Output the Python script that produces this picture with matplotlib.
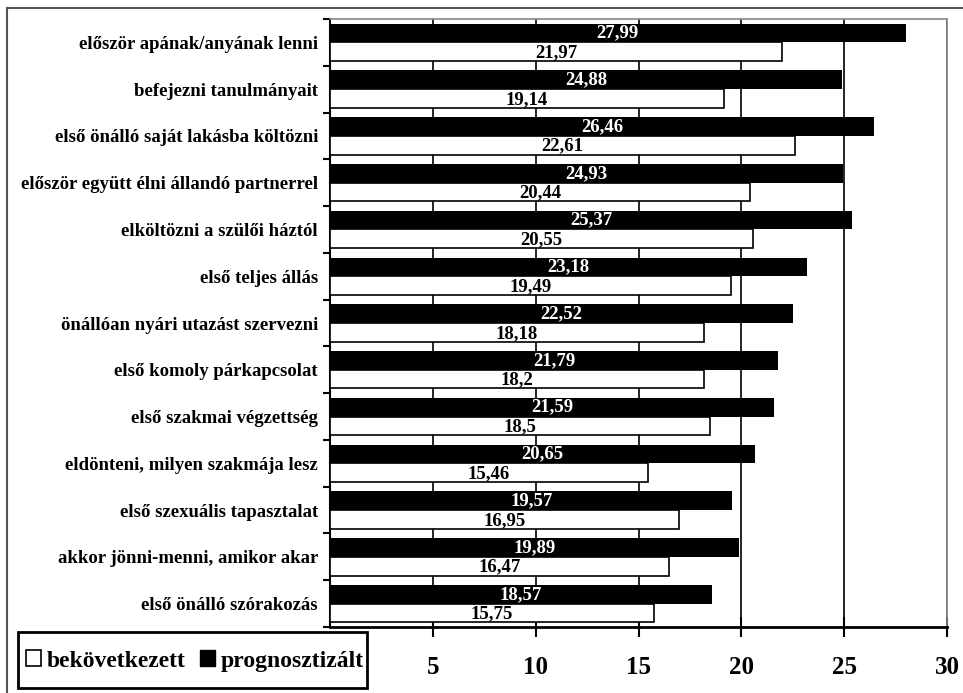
import matplotlib
matplotlib.use("Agg")
import matplotlib.pyplot as plt
import numpy as np
from matplotlib.patches import Patch, Rectangle
from matplotlib.lines import Line2D

plt.rcParams['font.family'] = ['Liberation Serif', 'DejaVu Serif']
plt.rcParams['font.weight'] = 'bold'

categories = [
    "először apának/anyának lenni",
    "befejezni tanulmányait",
    "első önálló saját lakásba költözni",
    "először együtt élni állandó partnerrel",
    "elköltözni a szülői háztól",
    "első teljes állás",
    "önállóan nyári utazást szervezni",
    "első komoly párkapcsolat",
    "első szakmai végzettség",
    "eldönteni, milyen szakmája lesz",
    "első szexuális tapasztalat",
    "akkor jönni-menni, amikor akar",
    "első önálló szórakozás",
]
prognosztizalt = [27.99, 24.88, 26.46, 24.93, 25.37, 23.18, 22.52, 21.79, 21.59, 20.65, 19.57, 19.89, 18.57]
bekovetkezett = [21.97, 19.14, 22.61, 20.44, 20.55, 19.49, 18.18, 18.2, 18.5, 15.46, 16.95, 16.47, 15.75]
x_ticks = [5, 10, 15, 20, 25, 30]

W, H = 963, 693
fig = plt.figure(figsize=(W / 100, H / 100), dpi=100)
ax = fig.add_axes([330 / W, 1 - 627 / H, (947 - 330) / W, (627 - 19) / H])

n = len(categories)
pos = np.arange(n)
bh = 0.4

def fmt(v):
    return f"{v:g}".replace('.', ',')

ax.barh(pos - bh / 2, prognosztizalt, height=bh, color='black', zorder=3)
ax.barh(pos + bh / 2, bekovetkezett, height=bh, color='white',
        edgecolor='black', linewidth=1.2, zorder=3)

for i, v in enumerate(prognosztizalt):
    ax.text(v / 2, pos[i] - bh / 2, fmt(v), ha='center', va='center',
            color='white', fontsize=13.5, fontweight='bold', zorder=4)
for i, v in enumerate(bekovetkezett):
    ax.text(v / 2, pos[i] + bh / 2 + 0.02, fmt(v), ha='center', va='center',
            color='black', fontsize=13.5, fontweight='bold', zorder=4)

ax.set_xlim(0, 30)
ax.set_ylim(n - 0.5, -0.5)

ax.set_xticks(x_ticks)
ax.set_xticklabels([str(t) for t in x_ticks], fontsize=18, fontweight='bold')
ax.tick_params(axis='x', direction='inout', length=14, width=1.5, pad=14)

ax.set_yticks(pos)
ax.set_yticklabels(categories, fontsize=13.5, fontweight='bold')
ax.tick_params(axis='y', which='major', length=0, pad=8.6)
ax.set_yticks(np.arange(n + 1) - 0.5, minor=True)
ax.tick_params(axis='y', which='minor', length=5, width=1.5, direction='out')

ax.grid(axis='x', color='black', linewidth=1.2, zorder=1)
ax.set_axisbelow(True)

ax.spines['left'].set_linewidth(1.5)
ax.spines['bottom'].set_linewidth(2)
ax.spines['top'].set_color('#888888')
ax.spines['right'].set_color('#888888')
ax.spines['top'].set_linewidth(1.2)
ax.spines['right'].set_linewidth(1.2)

# legend box
box = Rectangle((18 / W, 1 - 688 / H), (367 - 18) / W, (688 - 632) / H,
                transform=fig.transFigure, facecolor='white', edgecolor='black',
                linewidth=2, zorder=5)
fig.add_artist(box)

handles = [Patch(facecolor='white', edgecolor='black', linewidth=1.2, label='bekövetkezett'),
           Patch(facecolor='black', edgecolor='black', label='prognosztizált')]
leg = fig.legend(handles=handles, loc='center left',
                 bbox_to_anchor=(26 / W, 1 - 661 / H), bbox_transform=fig.transFigure,
                 ncol=2, frameon=False,
                 handlelength=0.65, handleheight=0.65,
                 handletextpad=0.22, columnspacing=0.62, borderpad=0, borderaxespad=0,
                 prop={'weight': 'bold', 'size': 17})
leg.set_zorder(10)

# outer frame
fig.add_artist(Line2D([7 / W, 1], [1 - 8 / H, 1 - 8 / H], transform=fig.transFigure,
                      color='#555555', linewidth=1.5))
fig.add_artist(Line2D([7 / W, 7 / W], [0, 1 - 8 / H], transform=fig.transFigure,
                      color='#555555', linewidth=1.5))

fig.savefig("out.png", dpi=100)
